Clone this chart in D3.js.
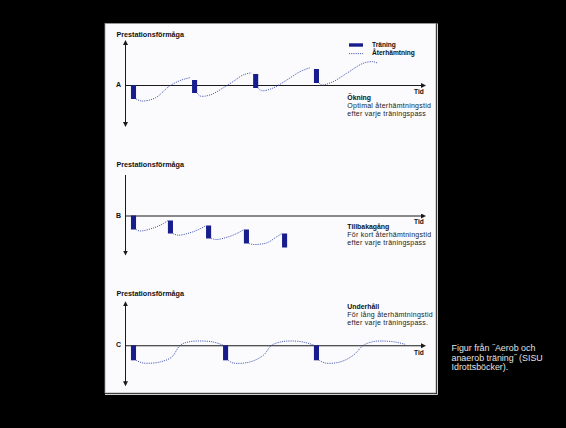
<!DOCTYPE html>
<html><head><meta charset="utf-8">
<script src="https://cdn.jsdelivr.net/npm/d3@7"></script>
<style>
html,body{margin:0;padding:0;background:#000;}
svg{display:block;}
text{font-family:"Liberation Sans",Arial,sans-serif;}
.txt{opacity:0.995;}
</style></head>
<body>
<script>
// ---------- DATA ----------
const panelLetters = ["A", "B", "C"];
const yAxisTitle = "Prestationsförmåga";
const xAxisTitle = "Tid";
const legendLabels = ["Träning", "Återhämtning"];
const trainingDuration = 1.7; // time units per training session

// Training bars: [start time, top performance, bottom performance]
const barsA = [[2.0, 0, -14], [22.5, 5, -8], [43.0, 11, -3], [63.4, 16, 2]];
const barsB = [[2.0, 0, -14], [14.4, -5, -18], [27.2, -10, -23], [39.9, -14, -28], [52.7, -18, -32]];
const barsC = [[2.0, 0, -15], [32.9, 0, -15], [63.4, 0, -15]];

// Recovery curves: [time, performance]
const recoveryA = [
  [[3.7,-14],[5.6,-16],[10.1,-13],[15.1,-0.7],[19.0,5],[21.8,7.3]],
  [[24.2,-8],[25.2,-11],[28.5,-10],[32.9,-3],[36.2,3.3],[39.6,10],[42.5,12.3]],
  [[44.6,-3],[45.9,-5.7],[49.7,-3],[54.3,5],[58.7,13.3],[62.3,17.5]],
  [[65.1,2],[66.0,0],[69.8,3.3],[74.4,11.7],[79.9,21.7],[83.2,23.3],[84.9,21.7]]
];
const recoveryB = [
  [[3.7,-14],[5.0,-15.5],[9.5,-12.5],[12.9,-8],[14.4,-5]],
  [[16.1,-18],[17.8,-19.7],[21.8,-17.3],[25.2,-13.3],[27.2,-10]],
  [[28.9,-23],[30.8,-24],[34.7,-21.3],[38.0,-17.3],[39.9,-14]],
  [[41.6,-28],[43.1,-29],[47.6,-27.3],[50.9,-21.3],[52.7,-18]]
];
const recoveryC = [
  [[3.7,-15],[6.1,-17.7],[11.7,-16.7],[15.7,-11.7],[18.5,0],[21.2,3.3],[25.2,4.3],[29.6,3.3],[33.0,0]],
  [[34.6,-15],[36.3,-17.7],[41.9,-16.7],[46.4,-10],[49.2,0],[52.5,3.5],[55.4,4.3],[59.8,3.3],[63.5,0]],
  [[65.2,-15],[67.1,-17.7],[72.1,-16.7],[76.6,-10],[80.0,0],[83.0,3.5],[86.1,4.3],[90.6,3.3],[94.0,1]]
];

const titlesBold = ["Ökning", "Tillbakagång", "Underhåll"];
const descLines = [
  ["Optimal återhämtningstid", "efter varje träningspass"],
  ["För kort återhämtningstid", "efter varje träningspass"],
  ["För lång återhämtningstid", "efter varje träningspass."]
];
const captionLines = ["Figur från \u02DDAerob och", "anaerob träning\u02DD  (SISU", "Idrottsböcker)."];

// ---------- LAYOUT ----------
const W = 566, H = 428;
const barColor = "#171d8c", curveColor = "#3346a8", axisColor = "#1a1a1a";
const svg = d3.select("body").append("svg").attr("width", W).attr("height", H);
svg.append("rect").attr("width", W).attr("height", H).attr("fill", "#000");

// panel
svg.append("rect").attr("x", 105).attr("y", 23.5).attr("width", 331).attr("height", 369.5)
  .attr("fill", "#fbfbfd").attr("stroke", "#9a9a9a").attr("stroke-width", 0.8);
svg.append("path").attr("d", "M105,394.5H437.5V23.5").attr("fill", "none").attr("stroke", "#d0d0d0").attr("stroke-width", 1);

const defs = svg.append("defs");
function marker(id, d) {
  defs.append("marker").attr("id", id).attr("viewBox", "0 0 10 10").attr("refX", 5).attr("refY", 5)
    .attr("markerWidth", 5).attr("markerHeight", 5).attr("markerUnits", "userSpaceOnUse").attr("orient", "auto")
    .append("path").attr("d", d).attr("fill", axisColor);
}
marker("arrowEnd", "M0,0L10,5L0,10Z");
marker("arrowStart", "M10,0L0,5L10,10Z");

const x = d3.scaleLinear().domain([0, 100]).range([125, 423]);

const panels = [
  {letter: panelLetters[0], bars: barsA, rec: recoveryA, axisY: 85, yDom: [-39, 43], upArrow: true,
   titleY: 36.5, tidY: 94, letterY: 87, textY: [99.6, 107.6, 115.6], title: titlesBold[0], desc: descLines[0]},
  {letter: panelLetters[1], bars: barsB, rec: recoveryB, axisY: 215.5, yDom: [-37, 41], upArrow: false,
   titleY: 166.7, tidY: 224.3, letterY: 217.5, textY: [229, 237, 245], title: titlesBold[1], desc: descLines[1]},
  {letter: panelLetters[2], bars: barsC, rec: recoveryC, axisY: 345.3, yDom: [-38, 42], upArrow: true,
   titleY: 296, tidY: 355, letterY: 347, textY: [309.4, 317.4, 325.4], title: titlesBold[2], desc: descLines[2]}
];

panels.forEach(p => {
  const y = d3.scaleLinear().domain(p.yDom).range([p.axisY - p.yDom[0], p.axisY - p.yDom[1]]);
  const g = svg.append("g");

  // y axis (path runs bottom -> top)
  const ya = g.append("g").attr("transform", `translate(${x(0)},0)`)
    .call(d3.axisLeft(y).ticks(0).tickSizeOuter(0));
  ya.select(".domain").attr("stroke", axisColor).attr("stroke-width", 1)
    .attr("marker-end", p.upArrow ? "url(#arrowEnd)" : null)
    .attr("marker-start", "url(#arrowStart)");
  // x axis
  const xa = g.append("g").attr("transform", `translate(0,${y(0)})`)
    .call(d3.axisBottom(x).ticks(0).tickSizeOuter(0));
  xa.select(".domain").attr("stroke", axisColor).attr("stroke-width", 1.1).attr("marker-end", "url(#arrowEnd)");

  // recovery curves
  const line = d3.line().x(d => x(d[0])).y(d => y(d[1])).curve(d3.curveCatmullRom.alpha(0.5));
  g.selectAll(".rec").data(p.rec).join("path").attr("d", line)
    .attr("fill", "none").attr("stroke", curveColor).attr("stroke-width", 0.9)
    .attr("stroke-dasharray", "1.1,1.1");

  // training bars
  g.selectAll(".bar").data(p.bars).join("rect")
    .attr("x", d => x(d[0])).attr("width", x(trainingDuration) - x(0))
    .attr("y", d => y(d[1])).attr("height", d => y(d[2]) - y(d[1]))
    .attr("fill", barColor);

  // labels
  const t = g.append("g").attr("class", "txt");
  t.append("text").attr("x", 116.5).attr("y", p.titleY).attr("font-size", 7.2).attr("font-weight", "bold")
    .attr("fill", "#111").text(yAxisTitle);
  t.append("text").attr("x", 116).attr("y", p.letterY).attr("font-size", 7).attr("font-weight", "bold")
    .attr("fill", "#111").text(p.letter);
  t.append("text").attr("x", 414).attr("y", p.tidY).attr("font-size", 6.6).attr("font-weight", "bold")
    .attr("fill", "#111").text(xAxisTitle);
  t.append("text").attr("x", 347.3).attr("y", p.textY[0]).attr("font-size", 6.9).attr("font-weight", "bold")
    .attr("fill", "#111").text(p.title);
  p.desc.forEach((s, i) => t.append("text").attr("x", 347.3).attr("y", p.textY[i + 1]).attr("font-size", 7.0)
    .attr("letter-spacing", 0.25).attr("fill", "#222").text(s));
});

// legend
const lg = svg.append("g");
lg.append("rect").attr("x", 349).attr("y", 43.3).attr("width", 14).attr("height", 3.4).attr("fill", barColor);
lg.append("line").attr("x1", 349).attr("x2", 363).attr("y1", 53.6).attr("y2", 53.6)
  .attr("stroke", curveColor).attr("stroke-width", 0.9).attr("stroke-dasharray", "1.1,1.1");
const lt = lg.append("g").attr("class", "txt");
lt.append("text").attr("x", 372).attr("y", 47.3).attr("font-size", 6.6).attr("font-weight", "bold").attr("fill", "#111").text(legendLabels[0]);
lt.append("text").attr("x", 372).attr("y", 55.3).attr("font-size", 6.6).attr("font-weight", "bold").attr("fill", "#111").text(legendLabels[1]);

// caption
const ct = svg.append("g").attr("class", "txt");
captionLines.forEach((s, i) => ct.append("text").attr("x", 451.5).attr("y", 351.3 + i * 9.5)
  .attr("font-size", 8.9).attr("fill", "#e4e4e4").text(s));
</script>
</body></html>
